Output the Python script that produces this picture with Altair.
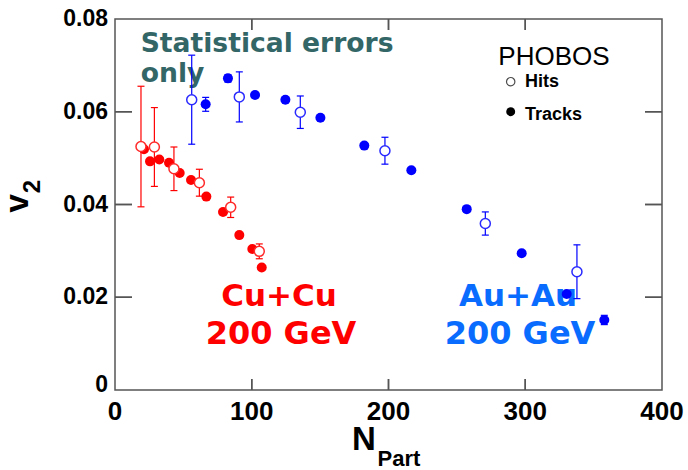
import altair as alt
import pandas as pd

# ---- data ----
au_tracks_npart = [66.3, 82.6, 102.4, 124.6, 150.2, 182.3, 216.7, 257.2, 297.4, 330.3, 357.8]
au_tracks_v2 = [0.0616, 0.0672, 0.0636, 0.0626, 0.0587, 0.0527, 0.0474, 0.0390, 0.0295, 0.0207, 0.0151]
au_tracks_err = [0.0015, 0.0008, 0.0005, 0.0005, 0.0005, 0.0005, 0.0005, 0.0005, 0.0005, 0.0005, 0.0010]

au_hits_npart = [56.1, 90.9, 135.5, 197.4, 270.8, 337.8]
au_hits_v2 = [0.0626, 0.0632, 0.0599, 0.0516, 0.0359, 0.0255]
au_hits_err = [0.0096, 0.0054, 0.0035, 0.0029, 0.0025, 0.0058]

cu_tracks_npart = [21.2, 25.6, 32.4, 39.5, 47.3, 55.6, 66.8, 79.0, 90.9, 100.4, 107.3]
cu_tracks_v2 = [0.0519, 0.0493, 0.0497, 0.0490, 0.0468, 0.0453, 0.0417, 0.0384, 0.0334, 0.0304, 0.0264]
cu_tracks_err = [0, 0, 0, 0, 0, 0, 0, 0, 0, 0, 0]

cu_hits_npart = [19.0, 28.8, 43.1, 61.7, 84.6, 105.5]
cu_hits_v2 = [0.0525, 0.0524, 0.0477, 0.0447, 0.0394, 0.0299]
cu_hits_err = [0.0130, 0.0085, 0.0047, 0.0029, 0.0022, 0.0016]

x_ticks = [0, 100, 200, 300, 400]
x_tick_labels = ["0", "100", "200", "300", "400"]
y_ticks = [0.02, 0.04, 0.06, 0.08]
y_tick_labels = ["0.02", "0.04", "0.06", "0.08"]
y_zero_tick = [0]
y_zero_label = ["0"]
x_inner_ticks = [100, 200, 300]
y_inner_ticks = [0.02, 0.04, 0.06]

X_MIN, X_MAX = 0, 400
Y_MIN, Y_MAX = 0, 0.08

# ---- build table ----
rows = []
for system, method, xs_, ys_, es_ in [
    ("Au+Au", "Tracks", au_tracks_npart, au_tracks_v2, au_tracks_err),
    ("Au+Au", "Hits", au_hits_npart, au_hits_v2, au_hits_err),
    ("Cu+Cu", "Tracks", cu_tracks_npart, cu_tracks_v2, cu_tracks_err),
    ("Cu+Cu", "Hits", cu_hits_npart, cu_hits_v2, cu_hits_err),
]:
    for x, y, e in zip(xs_, ys_, es_):
        rows.append({"system": system, "method": method, "npart": x, "v2": y,
                     "lo": y - e, "hi": y + e, "err": e})
df = pd.DataFrame(rows)
df_err = df[df["err"] > 0]

W, H = 547, 371
OX, OY = 115, 19

xs = alt.Scale(domain=[X_MIN, X_MAX], nice=False, zero=False)
ys = alt.Scale(domain=[Y_MIN, Y_MAX], nice=False, zero=False)
col = alt.Scale(domain=["Au+Au", "Cu+Cu"], range=["#0000ff", "#ff0000"])
col_open = alt.Scale(domain=["Au+Au", "Cu+Cu"], range=["#2a2aff", "#ff2a2a"])

def X(f):
    return alt.X(f, scale=xs, axis=None)

def Y(f):
    return alt.Y(f, scale=ys, axis=None)

one = pd.DataFrame({"a": [0]})

def label(txt, x, y, size, color, weight="bold", font="DejaVu Sans", align="left", angle=0):
    kw = dict(text=txt, align=align, baseline="alphabetic", fontSize=size, font=font,
              fontWeight=weight, color=color)
    if angle:
        kw["angle"] = angle
    return alt.Chart(one).mark_text(**kw).encode(x=alt.value(x - OX), y=alt.value(y - OY))

# tick labels placed through the scales
xlab_df = pd.DataFrame({"xl": x_ticks, "t": x_tick_labels})
ylab_df = pd.DataFrame({"yl": y_ticks, "t": y_tick_labels})
y0_df = pd.DataFrame({"y0l": y_zero_tick, "t": y_zero_label})
lab_style = dict(font="Liberation Sans", fontWeight="bold", color="black")
x_labels = alt.Chart(xlab_df).mark_text(align="center", baseline="top", fontSize=26,
                                        **lab_style).encode(
    x=X("xl:Q"), y=alt.value(H + 9), text="t:N")
y_labels = alt.Chart(ylab_df).mark_text(align="right", baseline="middle", fontSize=23,
                                        **lab_style).encode(
    y=Y("yl:Q"), x=alt.value(-7), text="t:N")
y0_label = alt.Chart(y0_df).mark_text(align="right", baseline="middle", fontSize=23, dy=-5,
                                      **lab_style).encode(
    y=Y("y0l:Q"), x=alt.value(-7), text="t:N")

# inward tick marks
YL, XL = 17, 11
dx = (X_MAX - X_MIN) * YL / W
dy = (Y_MAX - Y_MIN) * XL / H
ytick_df = pd.DataFrame({"ty": y_inner_ticks})
xtick_df = pd.DataFrame({"tx": x_inner_ticks})
tk = dict(color="#555555", strokeWidth=1.5, opacity=1)
yt_l = alt.Chart(ytick_df).transform_calculate(
    a=f"{X_MIN}", b=f"{X_MIN + dx}").mark_rule(**tk).encode(
    y=Y("ty:Q"), x=X("a:Q"), x2="b:Q")
yt_r = alt.Chart(ytick_df).transform_calculate(
    a=f"{X_MAX - dx}", b=f"{X_MAX}").mark_rule(**tk).encode(
    y=Y("ty:Q"), x=X("a:Q"), x2="b:Q")
xt_b = alt.Chart(xtick_df).transform_calculate(
    a=f"{Y_MIN}", b=f"{Y_MIN + dy}").mark_rule(**tk).encode(
    x=X("tx:Q"), y=Y("a:Q"), y2="b:Q")
xt_t = alt.Chart(xtick_df).transform_calculate(
    a=f"{Y_MAX - dy}", b=f"{Y_MAX}").mark_rule(**tk).encode(
    x=X("tx:Q"), y=Y("a:Q"), y2="b:Q")

# the same ticks again as stroked path symbols (path length = sqrt(size))
sym = dict(filled=False, color="#555555", strokeWidth=1.5, opacity=1)
ys_l = alt.Chart(ytick_df).mark_point(shape="M0,0L2,0", size=YL * YL, **sym).encode(
    y=Y("ty:Q"), x=alt.value(0))
ys_r = alt.Chart(ytick_df).mark_point(shape="M-2,0L0,0", size=YL * YL, **sym).encode(
    y=Y("ty:Q"), x=alt.value(W))
xs_b = alt.Chart(xtick_df).mark_point(shape="M0,-2L0,0", size=XL * XL, **sym).encode(
    x=X("tx:Q"), y=alt.value(H))
xs_t = alt.Chart(xtick_df).mark_point(shape="M0,0L0,2", size=XL * XL, **sym).encode(
    x=X("tx:Q"), y=alt.value(0))

texts = [
    label("Statistical errors", 140.7, 51.7, 26.6, "#336666"),
    label("only", 140.7, 81.5, 26.6, "#336666"),
    label("Cu+Cu", 279, 306, 31, "#ff0000", align="center"),
    label("200 GeV", 281, 344, 32, "#ff0000", align="center"),
    label("Au+Au", 518, 306, 31, "#0a6cff", align="center"),
    label("200 GeV", 520, 344, 32, "#0a6cff", align="center"),
    label("PHOBOS", 498.3, 65, 26, "black", weight="normal", font="Liberation Sans"),
    label("Hits", 525, 87.3, 18, "black", font="Liberation Sans"),
    label("Tracks", 525, 120, 18, "black", font="Liberation Sans"),
    label("v", 27.5, 203.3, 33, "black", font="Liberation Sans", align="center", angle=270),
    label("2", 40, 186.7, 24, "black", font="Liberation Sans", align="center", angle=270),
    label("N", 352, 450, 33, "black", font="Liberation Sans"),
    label("Part", 377.5, 465.5, 22, "black", font="Liberation Sans"),
]

leg_open = alt.Chart(one).mark_point(shape="circle", filled=False, color="black",
                                     fill="white", size=70, strokeWidth=1.2).encode(
    x=alt.value(510.7 - OX), y=alt.value(81.7 - OY))
leg_fill = alt.Chart(one).mark_circle(color="black", size=80, opacity=1).encode(
    x=alt.value(510.7 - OX), y=alt.value(111.7 - OY))

sys_color = alt.Color("system:N", scale=col, legend=None)
err_rule = alt.Chart(df_err).mark_rule(strokeWidth=1.2).encode(
    x=X("npart:Q"), y=Y("lo:Q"), y2="hi:Q", color=sys_color)
cap_lo = alt.Chart(df_err).mark_tick(orient="horizontal", size=7, thickness=1.2, opacity=1).encode(
    x=X("npart:Q"), y=Y("lo:Q"), color=sys_color)
cap_hi = alt.Chart(df_err).mark_tick(orient="horizontal", size=7, thickness=1.2, opacity=1).encode(
    x=X("npart:Q"), y=Y("hi:Q"), color=sys_color)

tracks = alt.Chart(df[df["method"] == "Tracks"]).mark_circle(size=100, opacity=1).encode(
    x=X("npart:Q"), y=Y("v2:Q"), color=sys_color)
hits = alt.Chart(df[df["method"] == "Hits"]).mark_point(
    shape="circle", filled=False, fill="white", fillOpacity=1, size=100,
    strokeWidth=1.5, opacity=1).encode(
    x=X("npart:Q"), y=Y("v2:Q"),
    stroke=alt.Stroke("system:N", scale=col_open, legend=None))

chart = alt.layer(
    yt_l, yt_r, xt_b, xt_t, ys_l, ys_r, xs_b, xs_t,
    *texts, leg_open, leg_fill,
    err_rule, cap_lo, cap_hi, tracks, hits,
    x_labels, y_labels, y0_label,
).properties(
    width=W, height=H,
    autosize=alt.AutoSizeParams(type="none"),
    padding={"left": OX, "top": OY, "right": 688 - OX - W, "bottom": 470 - OY - H},
    background="white",
).configure_view(stroke="#555555", strokeWidth=1.5)

chart.save("out.html", embed_options={"renderer": "svg", "actions": False})
